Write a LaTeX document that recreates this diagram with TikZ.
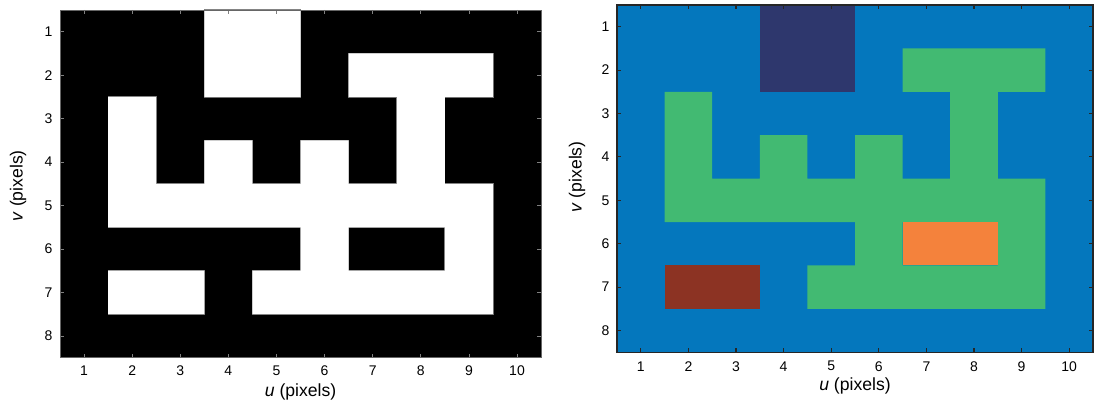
\documentclass[tikz,border=0pt]{standalone}
\usepackage{fontspec}
\setmainfont{Liberation Sans}
\usepackage{xcolor}
\usepackage{tikz}
\definecolor{lbblue}{HTML}{0477BD}
\definecolor{lbnavy}{HTML}{2E376D}
\definecolor{lbgreen}{HTML}{42BA72}
\definecolor{lborange}{HTML}{F4823C}
\definecolor{lbbrown}{HTML}{8C3323}

\tikzset{
  ticklabel/.style={font=\fontsize{10.5}{12}\selectfont, inner sep=1pt},
  axislabel/.style={font=\fontsize{13.2}{15}\selectfont, inner sep=1pt},
}
% the blob of the binary image, as cell rectangles
\newcommand{\blobcells}{
  (3,0) rectangle (5,2)
  (6,1) rectangle (9,2) (7,2) rectangle (8,4)
  (1,2) rectangle (2,5) (3,3) rectangle (4,4) (5,3) rectangle (6,6)
  (1,4) rectangle (9,5) (8,4) rectangle (9,7)
  (1,6) rectangle (3,7) (4,6) rectangle (9,7)
}

\begin{document}
\begin{tikzpicture}[x=0.75pt, y=-0.75pt]
  \useasboundingbox (0,0) rectangle (1094,403);

  % binary image
  \begin{scope}[shift={(60,10)}, x=36.08pt, y=-32.59pt]
    \fill[black] (0,0) rectangle (10,8);
    \path[fill=white, draw=black!55, line width=0.9pt] \blobcells;
    \fill[white] \blobcells;
    \foreach \c in {1,...,10} {
      \draw[black!50, line width=0.6pt] (\c-0.5,8) -- ++(0pt,3pt) (\c-0.5,0) -- ++(0pt,-3pt);
      \node[ticklabel] (bu\c) at (\c-0.5,8) [yshift=-10pt] {\c};
    }
    \foreach \r in {1,...,8} {
      \draw[black!50, line width=0.6pt] (0,\r-0.5) -- ++(3pt,0pt) (10,\r-0.5) -- ++(-3pt,0pt);
      \node[ticklabel, anchor=east] (bv\r) at (0,\r-0.5) [xshift=-4.5pt] {\r};
    }
    \draw[black!60, line width=0.6pt] (0,0) rectangle (10,8);
    \node[axislabel] (bulabel) at (5,8) [yshift=-25.5pt] {\textit{u} (pixels)};
    \node[axislabel, rotate=90] (bvlabel) at ([shift={(-31.5pt,-1.5pt)}]0,4) {\textit{v} (pixels)};
  \end{scope}

  % label image
  \begin{scope}[shift={(617,5)}, x=35.7pt, y=-32.55pt]
    \fill[lbblue] (0,0) rectangle (10,8);
    \fill[lbgreen] (6,1) rectangle (9,2) (7,2) rectangle (8,4)
      (1,2) rectangle (2,5) (3,3) rectangle (4,4) (5,3) rectangle (6,6)
      (1,4) rectangle (9,5) (8,4) rectangle (9,7) (4,6) rectangle (9,7);
    \fill[lbnavy] (3,0) rectangle (5,2);
    \fill[lborange] (6,5) rectangle (8,6);
    \fill[lbbrown] (1,6) rectangle (3,7);
    \foreach \c in {1,...,10} {
      \draw[black!85, line width=0.8pt] (\c-0.5,8) -- ++(0pt,3pt) (\c-0.5,0) -- ++(0pt,-3pt);
      \node[ticklabel] (lu\c) at (\c-0.5,8) [yshift=-10.5pt] {\c};
    }
    \foreach \r in {1,...,8} {
      \draw[black!85, line width=0.8pt] (0,\r-0.5) -- ++(3pt,0pt) (10,\r-0.5) -- ++(-3pt,0pt);
      \node[ticklabel, anchor=east] (lv\r) at (0,\r-0.5) [xshift=-4.5pt] {\r};
    }
    \draw[black!85, line width=0.9pt] (0,0) rectangle (10,8);
    \node[axislabel] (lulabel) at (5,8) [yshift=-25.5pt] {\textit{u} (pixels)};
    \node[axislabel, rotate=90] (lvlabel) at ([shift={(-30pt,1.2pt)}]0,4) {\textit{v} (pixels)};
  \end{scope}
\end{tikzpicture}
\end{document}
